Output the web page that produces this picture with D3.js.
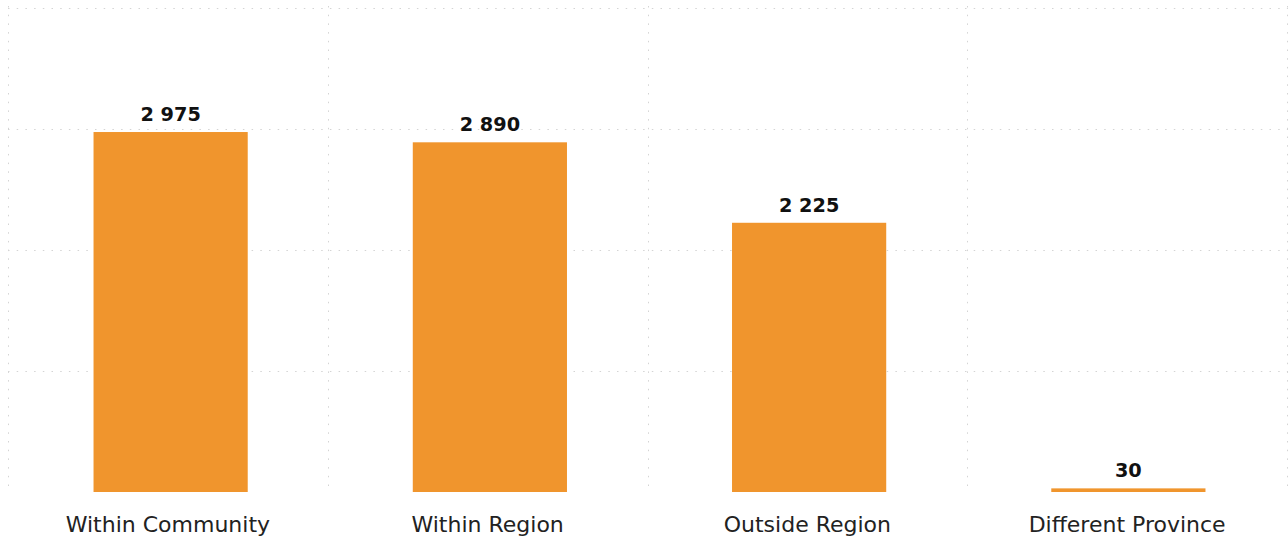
<!DOCTYPE html>
<html>
<head>
<meta charset="utf-8">
<script src="https://cdn.jsdelivr.net/npm/d3@7"></script>
<style>
  html, body { margin: 0; padding: 0; background: #fff; }
  svg { display: block; }
</style>
</head>
<body>
<svg id="chart" width="1288" height="539"></svg>
<script>
// Movements by destination
const categories = ["Within Community", "Within Region", "Outside Region", "Different Province"];
const values = [2975, 2890, 2225, 30];
const yTicks = [1000, 2000, 3000, 4000];

const svg = d3.select("#chart");
const plot = { left: 11, right: 1288, top: 8, bottom: 492 };

// bar positions
const x = d3.scaleBand()
  .domain(categories)
  .range([plot.left, plot.right])
  .paddingInner(0.517)
  .paddingOuter(0.2585);

// full-width category cells (grid and axis labels)
const xCell = d3.scaleBand()
  .domain(categories)
  .range([8, 1287])
  .padding(0);

const y = d3.scaleLinear()
  .domain([0, 4000])
  .range([plot.bottom, plot.top]);

const grid = svg.append("g").attr("class", "grid");

// horizontal dotted grid lines
grid.selectAll("line.h")
  .data(yTicks)
  .join("line")
  .attr("class", "h")
  .attr("x1", 8)
  .attr("x2", plot.right)
  .attr("y1", d => Math.round(y(d)) + 0.5)
  .attr("y2", d => Math.round(y(d)) + 0.5)
  .attr("stroke", "#d4d4d4")
  .attr("stroke-width", 1)
  .attr("stroke-dasharray", "1.5,7.2");

// vertical dotted lines at category boundaries
const bounds = categories.map(c => xCell(c)).concat([xCell.range()[1]]);
grid.selectAll("line.v")
  .data(bounds)
  .join("line")
  .attr("class", "v")
  .attr("x1", d => Math.round(d) + 0.5)
  .attr("x2", d => Math.round(d) + 0.5)
  .attr("y1", plot.top - 2)
  .attr("y2", plot.bottom - 6)
  .attr("stroke", "#d4d4d4")
  .attr("stroke-width", 1)
  .attr("stroke-dasharray", "1.5,7.2");

// bars
svg.append("g")
  .selectAll("rect")
  .data(categories)
  .join("rect")
  .attr("x", d => x(d))
  .attr("width", x.bandwidth())
  .attr("y", (d, i) => y(values[i]))
  .attr("height", (d, i) => y(0) - y(values[i]))
  .attr("fill", "#F0952D");

// value labels
const fmt = v => d3.format(",")(v).replace(/,/g, " ");
svg.append("g")
  .selectAll("text")
  .data(categories)
  .join("text")
  .attr("x", d => x(d) + x.bandwidth() / 2)
  .attr("y", (d, i) => y(values[i]) - 11)
  .attr("text-anchor", "middle")
  .attr("font-family", "DejaVu Sans, sans-serif")
  .attr("font-weight", "bold")
  .attr("font-size", 19.3)
  .attr("fill", "#111")
  .text((d, i) => fmt(values[i]));

// category axis labels
const xAxis = d3.axisBottom(xCell).tickSize(0).tickPadding(0);
const ax = svg.append("g")
  .attr("transform", `translate(0, ${plot.bottom})`)
  .call(xAxis);
ax.select(".domain").remove();
ax.selectAll("text")
  .attr("dy", 0)
  .attr("y", 40)
  .attr("font-family", "DejaVu Sans, sans-serif")
  .attr("font-size", 22)
  .attr("fill", "#222");
</script>
</body>
</html>
